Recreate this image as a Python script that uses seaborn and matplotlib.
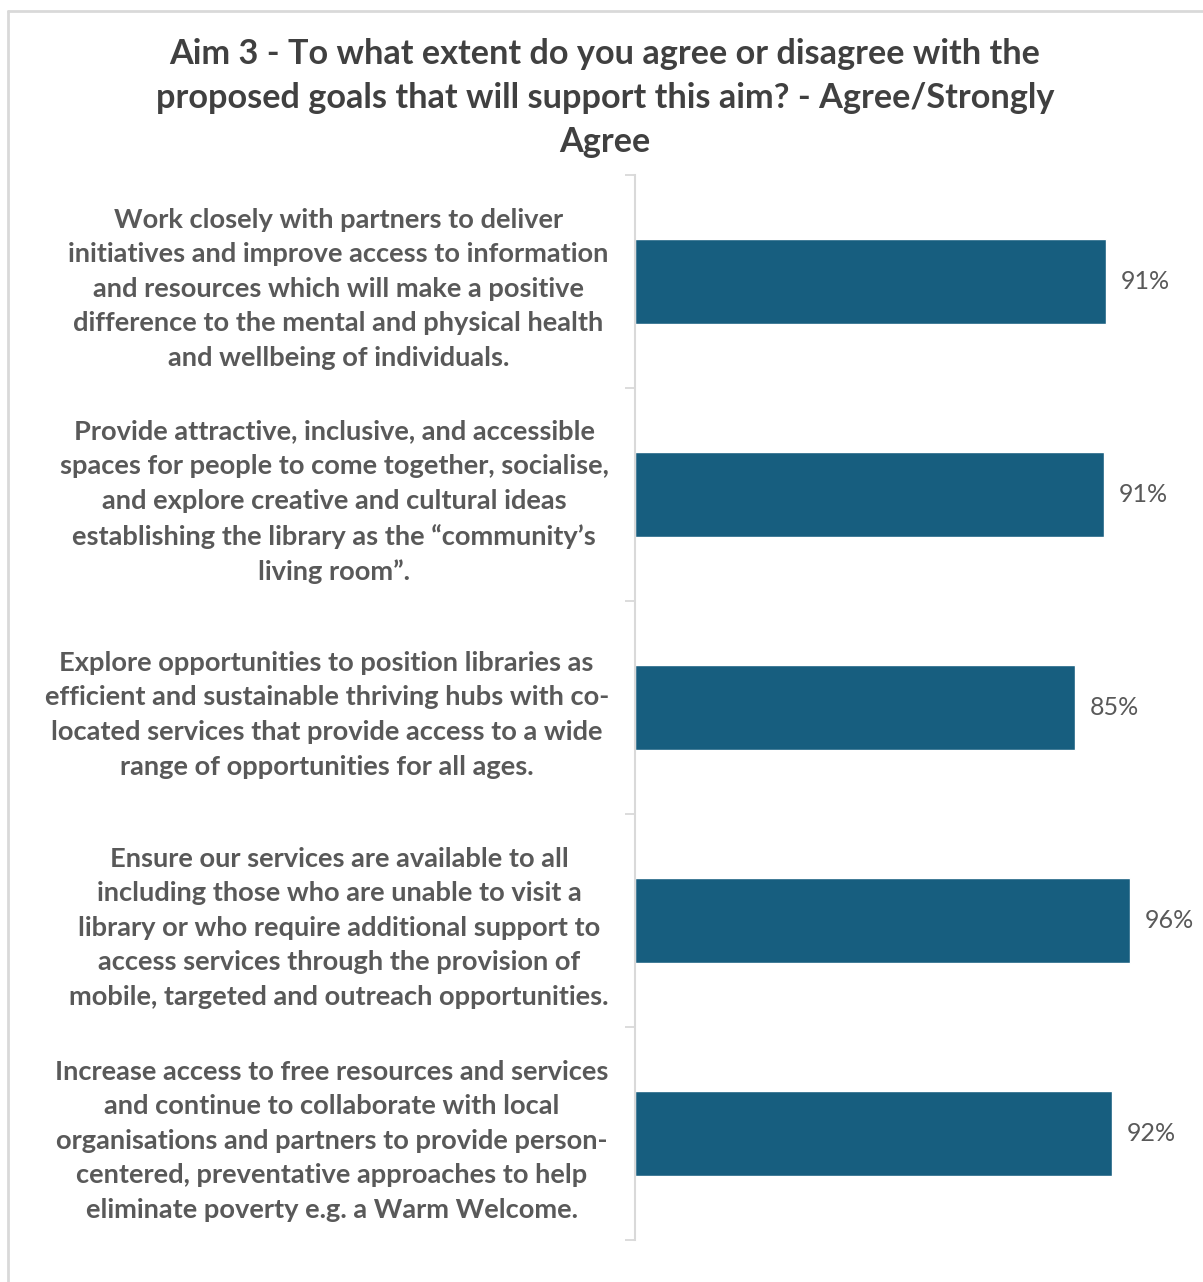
import matplotlib
matplotlib.use("Agg")
import matplotlib.pyplot as plt
import seaborn as sns
import pandas as pd
from matplotlib.lines import Line2D

goals = [
    "Work closely with partners to deliver\ninitiatives and improve access to information\nand resources which will make a positive\ndifference to the mental and physical health\nand wellbeing of individuals.",
    "Provide attractive, inclusive, and accessible\nspaces for people to come together, socialise,\nand explore creative and cultural ideas\nestablishing the library as the \u201ccommunity\u2019s\nliving room\u201d.",
    "Explore opportunities to position libraries as\nefficient and sustainable thriving hubs with co-\nlocated services that provide access to a wide\nrange of opportunities for all ages.",
    "Ensure our services are available to all\nincluding those who are unable to visit a\nlibrary or who require additional support to\naccess services through the provision of\nmobile, targeted and outreach opportunities.",
    "Increase access to free resources and services\nand continue to collaborate with local\norganisations and partners to provide person-\ncentered, preventative approaches to help\neliminate poverty e.g. a Warm Welcome.",
]
agree_share = [0.910, 0.906, 0.851, 0.957, 0.922]

title = ("Aim 3 - To what extent do you agree or disagree with the\n"
         "proposed goals that will support this aim? - Agree/Strongly\nAgree")

BAR = "#175e7f"
TEXT = "#595959"
TITLE = "#404040"

sns.set_theme(style="white")
plt.rcParams["font.family"] = ["Lato", "DejaVu Sans"]

df = pd.DataFrame({"goal": goals, "share": agree_share})

fig = plt.figure(figsize=(12.03, 12.82), dpi=100)
ax = fig.add_axes([0.528, 0.0328, 0.43, 0.8307])

sns.barplot(data=df, x="share", y="goal", orient="h", color=BAR,
            width=0.40, saturation=1, ax=ax)

ax.set_xlim(0, 1)
ax.set_ylim(4.5, -0.5)
ax.set_xlabel("")
ax.set_ylabel("")
ax.set_xticks([])

for s in ["top", "right", "bottom"]:
    ax.spines[s].set_visible(False)
ax.spines["left"].set_color("#d9d9d9")
ax.spines["left"].set_linewidth(1.5)

# category separators as minor ticks on the left axis
ax.set_yticks([i - 0.5 for i in range(len(goals) + 1)], minor=True)
ax.tick_params(axis="y", which="minor", length=7, width=1.3, color="#d9d9d9", left=True)
ax.tick_params(axis="y", which="major", length=0, pad=19)

for lbl in ax.get_yticklabels():
    lbl.set_fontsize(19.6)
    lbl.set_fontweight("bold")
    lbl.set_color(TEXT)
    lbl.set_multialignment("center")
    lbl.set_linespacing(1.53)

for i, v in enumerate(agree_share):
    ax.text(v + 0.028, i, f"{round(v * 100)}%", va="center", ha="left",
            fontsize=18, color=TEXT)

fig.text(0.503, 0.970, title, ha="center", va="top", fontsize=24.7,
         fontweight="bold", color=TITLE, linespacing=1.45)

# light frame around the chart area
fig.add_artist(Line2D([0.007, 0.007], [0.0, 0.9915], transform=fig.transFigure,
                      color="#d9d9d9", lw=2))
fig.add_artist(Line2D([0.007, 1.0], [0.9915, 0.9915], transform=fig.transFigure,
                      color="#d9d9d9", lw=2))

fig.savefig("out.png", dpi=100, facecolor="white")
